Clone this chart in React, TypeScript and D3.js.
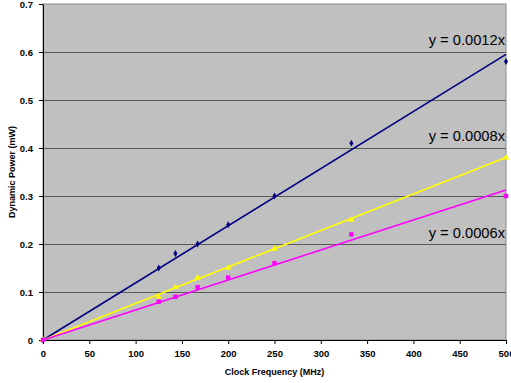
import { useRef, useEffect } from 'react';
import * as d3 from 'd3';

const freqs = [0, 125, 143, 167, 200, 250, 333, 500];
const blueVals = [0, 0.15, 0.18, 0.2, 0.24, 0.3, 0.41, 0.58];
const yellowVals = [0, 0.09, 0.11, 0.13, 0.15, 0.19, 0.25, 0.38];
const magentaVals = [0, 0.08, 0.09, 0.11, 0.13, 0.16, 0.22, 0.3];

const trendSlopes = [0.00119, 0.00076, 0.000625];
const trendLabels = ['y = 0.0012x', 'y = 0.0008x', 'y = 0.0006x'];
const trendLabelY = [0.615, 0.415, 0.213];

const xTicks = [0, 50, 100, 150, 200, 250, 300, 350, 400, 450, 500];
const yTicks = [0, 0.1, 0.2, 0.3, 0.4, 0.5, 0.6, 0.7];

const W = 511;
const H = 383;
const M = { top: 4, right: 5, bottom: 43, left: 43 };

export default function App() {
  const svgRef = useRef<SVGSVGElement>(null);

  useEffect(() => {
    const svg = d3.select(svgRef.current);
    svg.selectAll('*').remove();

    const x = d3.scaleLinear().domain([0, 500]).range([M.left, W - M.right]);
    const y = d3.scaleLinear().domain([0, 0.7]).range([H - M.bottom, M.top]);
    const font = 'Liberation Sans, Arial, sans-serif';

    svg.append('rect').attr('width', W).attr('height', H).attr('fill', '#ffffff');

    // plot area
    svg
      .append('rect')
      .attr('x', x(0))
      .attr('y', y(0.7))
      .attr('width', x(500) - x(0))
      .attr('height', y(0) - y(0.7))
      .attr('fill', '#c0c0c0')
      .attr('stroke', '#8a8a8a')
      .attr('stroke-width', 1);

    // gridlines
    yTicks.slice(1, -1).forEach((t) => {
      svg
        .append('line')
        .attr('x1', x(0))
        .attr('x2', x(500))
        .attr('y1', Math.round(y(t)) + 0.5)
        .attr('y2', Math.round(y(t)) + 0.5)
        .attr('stroke', '#5a5a5a')
        .attr('stroke-width', 1);
    });

    // axes
    const yAxis = svg
      .append('g')
      .attr('transform', `translate(${x(0)},0)`)
      .call(d3.axisLeft(y).tickValues(yTicks).tickSize(4).tickSizeOuter(0).tickFormat((d) => `${d}`));
    const xAxis = svg
      .append('g')
      .attr('transform', `translate(0,${y(0)})`)
      .call(d3.axisBottom(x).tickValues(xTicks).tickSize(4).tickSizeOuter(0));
    [yAxis, xAxis].forEach((g) => {
      g.select('.domain').attr('stroke', '#000');
      g.selectAll('line').attr('stroke', '#000');
      g.selectAll('text')
        .attr('font-family', font)
        .attr('font-size', 9.5)
        .attr('font-weight', 700)
        .attr('fill', '#000');
    });
    yAxis.selectAll('text').attr('x', -10);
    xAxis.selectAll('text').attr('y', 10);

    // axis titles
    svg
      .append('text')
      .attr('x', (x(0) + x(500)) / 2)
      .attr('y', 375)
      .attr('text-anchor', 'middle')
      .attr('font-family', font)
      .attr('font-size', 9)
      .attr('font-weight', 700)
      .text('Clock Frequency (MHz)');
    svg
      .append('text')
      .attr('transform', `translate(15,${(y(0) + y(0.7)) / 2}) rotate(-90)`)
      .attr('text-anchor', 'middle')
      .attr('font-family', font)
      .attr('font-size', 9)
      .attr('font-weight', 700)
      .text('Dynamic Power (mW)');

    const series = [
      { vals: blueVals, color: '#000080', shape: d3.symbolDiamond, size: 14 },
      { vals: yellowVals, color: '#ffff00', shape: d3.symbolTriangle, size: 18 },
      { vals: magentaVals, color: '#ff00ff', shape: d3.symbolSquare, size: 20 },
    ];

    // trendlines
    series.forEach((s, i) => {
      svg
        .append('line')
        .attr('x1', x(0))
        .attr('y1', y(0))
        .attr('x2', x(500))
        .attr('y2', y(trendSlopes[i] * 500))
        .attr('stroke', s.color)
        .attr('stroke-width', 1.6);
    });

    // markers
    series.forEach((s) => {
      const sym = d3.symbol().type(s.shape).size(s.size);
      svg
        .append('g')
        .selectAll('path')
        .data(freqs)
        .join('path')
        .attr('transform', (d, j) => `translate(${x(d)},${y(s.vals[j])})`)
        .attr('d', sym()!)
        .attr('fill', s.color);
    });

    // trend labels
    trendLabels.forEach((t, i) => {
      svg
        .append('text')
        .attr('x', x(500) - 1)
        .attr('y', y(trendLabelY[i]))
        .attr('text-anchor', 'end')
        .attr('font-family', font)
        .attr('font-size', 14.7)
        .attr('fill', '#000')
        .text(t);
    });
  }, []);

  return (
    <svg
      ref={svgRef}
      width={W}
      height={H}
      style={{ position: 'absolute', left: 0, top: 0, display: 'block' }}
    />
  );
}
